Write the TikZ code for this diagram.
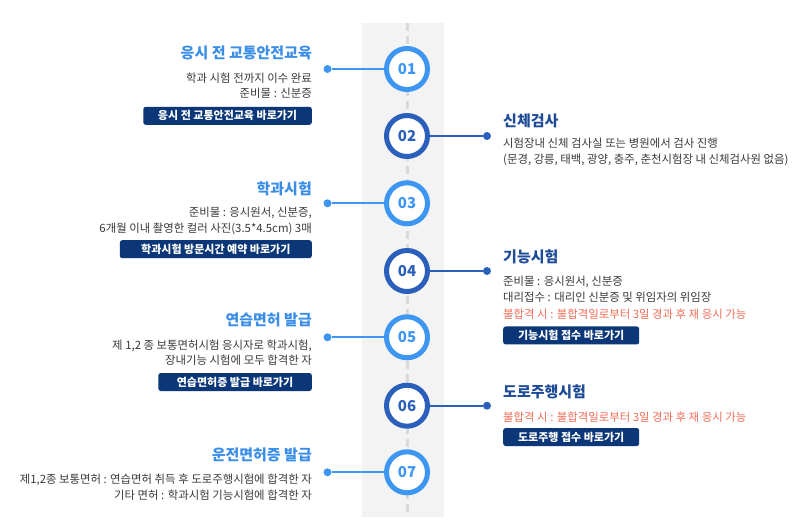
\documentclass[tikz,border=0pt]{standalone}
\usepackage{fontspec}
\setmainfont{Noto Sans CJK KR}
\definecolor{lblue}{HTML}{3D97F2}
\definecolor{lbluet}{HTML}{3A8EE8}
\definecolor{dblue}{HTML}{2A60BC}
\definecolor{dbluet}{HTML}{1D4B98}
\definecolor{navy}{HTML}{0B3677}
\definecolor{redtx}{HTML}{F06C56}
\definecolor{txtgray}{HTML}{3A3A3A}
\definecolor{bandgray}{HTML}{F3F3F3}
\definecolor{dashgray}{HTML}{D9D9D9}
\begin{document}
\begin{tikzpicture}[x=1pt,y=-1pt,
  ttl/.style={font=\fontsize{15}{17}\selectfont\bfseries, inner sep=0},
  body/.style={font=\fontsize{11.4}{13}\selectfont, text=txtgray, inner sep=0},
  warn/.style={body, text=redtx},
  btn/.style={fill=navy, rounded corners=2.5pt, text=white, font=\fontsize{11}{12}\selectfont\bfseries, minimum height=18pt, inner xsep=0pt, inner ysep=0},
  ring/.style={circle, draw, line width=5pt, fill=white, minimum size=41pt, inner sep=0, font=\fontsize{15}{17}\selectfont\bfseries},
  conn/.style={line width=1.8pt},
  dotc/.style={circle, inner sep=0, minimum size=8pt}
]
\useasboundingbox (0,0) rectangle (800,526);
\fill[white] (0,0) rectangle (800,526);
\fill[bandgray] (362,23) rectangle (444,517);
\coordinate (ltop) at (407,23);
\coordinate (lbot) at (407,517);
\draw[dashgray, line width=3pt, dash pattern=on 8pt off 5pt] (ltop) -- (lbot);

% 01
\node[ring, draw=lblue, text=lblue] (c1) at (407,69) {01};
\node[dotc, fill=lblue] (d1) at (327.5,69) {};
\draw[conn, lblue] (d1) -- (c1);
\node[ttl, text=lbluet, anchor=east] (t1) at (312,53.3) {응시 전 교통안전교육};
\node[body, anchor=east] (b1a) at (312,78.3) {학과 시험 전까지 이수 완료};
\node[body, anchor=east] (b1b) at (312,93.5) {준비물 : 신분증};
\node[btn, anchor=east, minimum width=168.5pt] (k1) at (312,115.8) {응시 전 교통안전교육 바로가기};

% 02
\node[ring, draw=dblue, text=dblue] (c2) at (407,136) {02};
\node[dotc, fill=dblue] (d2) at (487,136) {};
\draw[conn, dblue] (c2) -- (d2);
\node[ttl, text=dbluet, anchor=west] (t2) at (503,120.7) {신체검사};
\node[body, anchor=west] (b2a) at (503,142.7) {시험장내 신체 검사실 또는 병원에서 검사 진행};
\node[body, anchor=west] (b2b) at (503,160) {(문경, 강릉, 태백, 광양, 충주, 춘천시험장 내 신체검사원 없음)};

% 03
\node[ring, draw=lblue, text=lblue] (c3) at (407,203.3) {03};
\node[dotc, fill=lblue] (d3) at (327.5,203.3) {};
\draw[conn, lblue] (d3) -- (c3);
\node[ttl, text=lbluet, anchor=east] (t3) at (312,189) {학과시험};
\node[body, anchor=east] (b3a) at (312,212.7) {준비물 : 응시원서, 신분증,};
\node[body, anchor=east] (b3b) at (312,229) {6개월 이내 촬영한 컬러 사진(3.5*4.5cm) 3매};
\node[btn, anchor=east, minimum width=192pt] (k3) at (312,249.2) {학과시험 방문시간 예약 바로가기};

% 04
\node[ring, draw=dblue, text=dblue] (c4) at (407,271) {04};
\node[dotc, fill=dblue] (d4) at (487,271) {};
\draw[conn, dblue] (c4) -- (d4);
\node[ttl, text=dbluet, anchor=west] (t4) at (503,257.3) {기능시험};
\node[body, anchor=west] (b4a) at (503,281.7) {준비물 : 응시원서, 신분증};
\node[body, anchor=west] (b4b) at (503,297.3) {대리접수 : 대리인 신분증 및 위임자의 위임장};
\node[warn, anchor=west] (b4c) at (503,314) {불합격 시 : 불합격일로부터 3일 경과 후 재 응시 가능};
\node[btn, anchor=west, minimum width=136pt] (k4) at (503,335.5) {기능시험 접수 바로가기};

% 05
\node[ring, draw=lblue, text=lblue] (c5) at (407,337.3) {05};
\node[dotc, fill=lblue] (d5) at (327.5,337.3) {};
\draw[conn, lblue] (d5) -- (c5);
\node[ttl, text=lbluet, anchor=east] (t5) at (312,320) {연습면허 발급};
\node[body, anchor=east] (b5a) at (312,346.3) {제 1,2 종 보통면허시험 응시자로 학과시험,};
\node[body, anchor=east] (b5b) at (312,360) {장내기능 시험에 모두 합격한 자};
\node[btn, anchor=east, minimum width=153.5pt] (k5) at (312,382) {연습면허증 발급 바로가기};

% 06
\node[ring, draw=dblue, text=dblue] (c6) at (407,405.7) {06};
\node[dotc, fill=dblue] (d6) at (487,405.7) {};
\draw[conn, dblue] (c6) -- (d6);
\node[ttl, text=dbluet, anchor=west] (t6) at (503,392.3) {도로주행시험};
\node[warn, anchor=west] (b6a) at (503,416.7) {불합격 시 : 불합격일로부터 3일 경과 후 재 응시 가능};
\node[btn, anchor=west, minimum width=136pt] (k6) at (503,437) {도로주행 접수 바로가기};

% 07
\node[ring, draw=lblue, text=lblue] (c7) at (407,472.3) {07};
\node[dotc, fill=lblue] (d7) at (327.5,472.3) {};
\draw[conn, lblue] (d7) -- (c7);
\node[ttl, text=lbluet, anchor=east] (t7) at (312,455) {운전면허증 발급};
\node[body, anchor=east] (b7a) at (312,480) {제1,2종 보통면허 : 연습면허 취득 후 도로주행시험에 합격한 자};
\node[body, anchor=east] (b7b) at (312,495) {기타 면허 : 학과시험 기능시험에 합격한 자};
\end{tikzpicture}
\end{document}
